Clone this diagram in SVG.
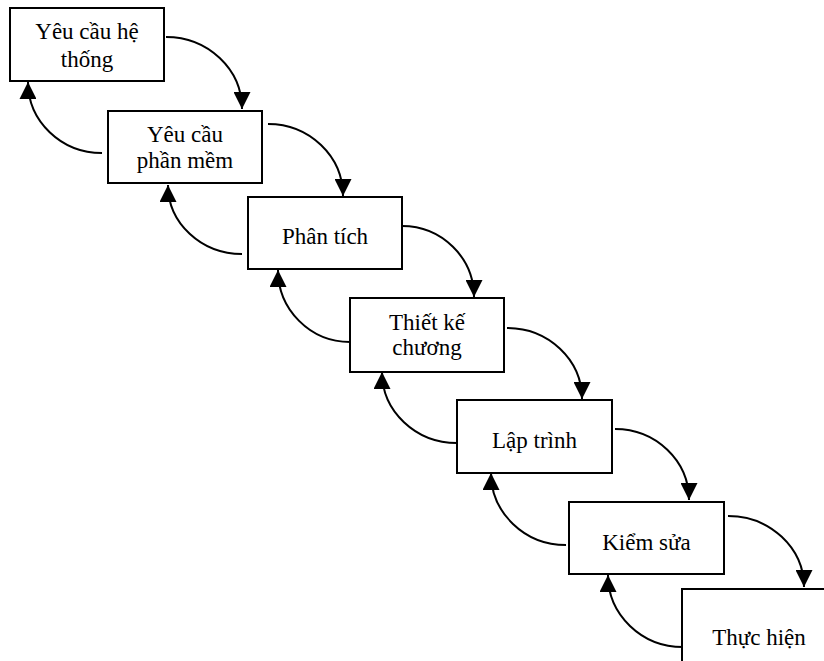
<svg xmlns="http://www.w3.org/2000/svg" width="824" height="661" viewBox="0 0 824 661">
  <style>
    .box { fill: #ffffff; stroke: #000000; stroke-width: 2; }
    .label { font-family: 'Liberation Serif', 'DejaVu Serif', 'Times New Roman', serif; font-size: 23px; fill: #000000; text-anchor: middle; }
    .link { fill: none; stroke: #000000; stroke-width: 2; marker-end: url(#head); }
  </style>
  <defs>
    <marker id="head" markerUnits="userSpaceOnUse" markerWidth="17" markerHeight="17" refX="17" refY="8.5" orient="auto">
      <path d="M0,0 L17,8.5 L0,17 Z" fill="#000000"/>
    </marker>
  </defs>
  <rect width="824" height="661" fill="#ffffff"/>

  <g id="n1">
    <rect class="box" x="10" y="8" width="154" height="73"/>
    <text class="label" x="87" y="39">Yêu cầu hệ</text>
    <text class="label" x="87" y="67">thống</text>
  </g>
  <g id="n2">
    <rect class="box" x="108" y="111" width="154" height="72"/>
    <text class="label" x="185" y="142">Yêu cầu</text>
    <text class="label" x="185" y="168">phần mềm</text>
  </g>
  <g id="n3">
    <rect class="box" x="248" y="197" width="154" height="72"/>
    <text class="label" x="325" y="244">Phân tích</text>
  </g>
  <g id="n4">
    <rect class="box" x="350" y="298" width="154" height="74"/>
    <text class="label" x="427" y="330">Thiết kế</text>
    <text class="label" x="427" y="355">chương</text>
  </g>
  <g id="n5">
    <rect class="box" x="457" y="400" width="155" height="73"/>
    <text class="label" x="534.5" y="448">Lập trình</text>
  </g>
  <g id="n6">
    <rect class="box" x="569" y="502" width="155" height="72"/>
    <text class="label" x="646.5" y="550">Kiểm sửa</text>
  </g>
  <g id="n7">
    <rect class="box" x="682" y="589" width="154" height="80"/>
    <text class="label" x="759" y="645">Thực hiện</text>
  </g>

  <g id="connectors">
    <!-- forward steps -->
    <path class="link" d="M166,37 A76,72 0 0 1 242,109"/>
    <path class="link" d="M268,124 A75,72 0 0 1 343,196"/>
    <path class="link" d="M402,226 A72,71 0 0 1 474,297"/>
    <path class="link" d="M507,328 A75,71 0 0 1 582,399"/>
    <path class="link" d="M615,429 A74,71 0 0 1 689,500"/>
    <path class="link" d="M728,516 A76,71 0 0 1 804,587"/>
    <!-- feedback steps -->
    <path class="link" d="M102,153 A74,71 0 0 1 28,82"/>
    <path class="link" d="M242,254 A74,69 0 0 1 168,185"/>
    <path class="link" d="M350,342 A72,72 0 0 1 278,270"/>
    <path class="link" d="M457,443 A75,71 0 0 1 382,372"/>
    <path class="link" d="M566,545 A75,72 0 0 1 491,473"/>
    <path class="link" d="M683,647 A75,72 0 0 1 608,575"/>
  </g>
</svg>
